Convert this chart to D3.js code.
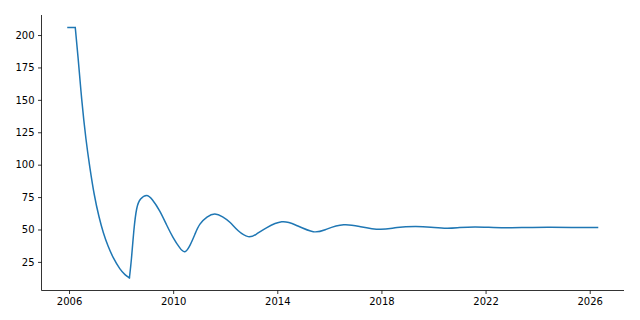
<!DOCTYPE html>
<html>
<head>
<meta charset="utf-8">
<script src="https://cdn.jsdelivr.net/npm/d3@7"></script>
<style>
  html, body { margin: 0; padding: 0; background: #fff; }
  #chart { width: 640px; height: 320px; }
  text { font-family: "DejaVu Sans", sans-serif; }
</style>
</head>
<body>
<div id="chart"></div>
<script>
// decimal years / values
const years = [
  2005.96, 2006.24, 2006.35, 2006.49, 2006.65, 2006.8, 2006.97, 2007.15, 2007.32, 2007.5,
  2007.7, 2007.95, 2008.15, 2008.32, 2008.4, 2008.49, 2008.6, 2008.75, 2008.98, 2009.2,
  2009.48, 2009.75, 2010.0, 2010.25, 2010.45, 2010.65, 2010.85, 2011.03, 2011.3, 2011.6,
  2011.9, 2012.19, 2012.5, 2012.88, 2013.2, 2013.6, 2014.17, 2014.7, 2015.38, 2015.9,
  2016.55, 2017.2, 2017.95, 2018.6, 2019.3, 2019.9, 2020.5, 2021.0, 2021.6, 2022.3,
  2023.0, 2023.8, 2024.5, 2025.3, 2026.3
];
const values = [
  205.8, 205.8, 182, 150, 120, 98, 77, 60, 47.5, 37.2,
  28.3, 19.8, 15.2, 12.6, 28, 49, 66, 73.5, 76.3, 73,
  64.4, 53.5, 43.8, 36, 32.9, 38, 47, 54.1, 59.5, 61.9,
  59.8, 55.4, 49, 44.5, 46.5, 51.5, 55.9, 53.5, 48.3, 50.3,
  53.6, 52.2, 50.2, 51.5, 52.3, 51.8, 51, 51.5, 52, 51.6,
  51.4, 51.6, 51.7, 51.5, 51.5
];
// indices where the curve has a sharp corner
const breaks = [1, 13];

const xTicks = [2006, 2010, 2014, 2018, 2022, 2026];
const yTicks = [25, 50, 75, 100, 125, 150, 175, 200];

function renderChart(containerId) {
  const width = 640, height = 320;
  const svg = d3.select(`#${containerId}`).append("svg")
    .attr("width", width)
    .attr("height", height);

  const data = years.map((t, i) => ({ t, v: values[i] }));

  // matplotlib-like 5% margins
  const tMin = d3.min(years), tMax = d3.max(years);
  const vMin = d3.min(values), vMax = d3.max(values);
  const tPad = (tMax - tMin) * 0.05, vPad = (vMax - vMin) * 0.05;

  const x = d3.scaleLinear().domain([tMin - tPad, tMax + tPad]).range([41.5, 624]);
  const y = d3.scaleLinear().domain([vMin - vPad, vMax + vPad]).range([290.5, 15]);

  // split into smooth pieces so the corners stay sharp
  const cuts = [0, ...breaks, data.length - 1];
  const pieces = [];
  for (let i = 0; i < cuts.length - 1; i++) {
    pieces.push(data.slice(cuts[i], cuts[i + 1] + 1));
  }
  const line = d3.line()
    .x(d => x(d.t))
    .y(d => y(d.v))
    .curve(d3.curveNatural);

  svg.append("path")
    .attr("d", pieces.map(p => line(p)).join(""))
    .attr("fill", "none")
    .attr("stroke", "#1f77b4")
    .attr("stroke-width", 1.5)
    .attr("stroke-linejoin", "round")
    .attr("stroke-linecap", "square");

  const xAxis = svg.append("g")
    .attr("transform", `translate(0,${290.5})`)
    .call(d3.axisBottom(x).tickValues(xTicks).tickFormat(d3.format("d")).tickSize(3.5).tickPadding(3.5));
  const yAxis = svg.append("g")
    .attr("transform", `translate(${41.5},0)`)
    .call(d3.axisLeft(y).tickValues(yTicks).tickFormat(d3.format("d")).tickSize(3.5).tickPadding(3.5));

  [xAxis, yAxis].forEach(ax => {
    ax.select(".domain").attr("stroke", "#000").attr("stroke-width", 0.8);
    ax.selectAll(".tick line").attr("stroke", "#000").attr("stroke-width", 0.8);
    ax.selectAll(".tick text")
      .attr("fill", "#000")
      .style("font-size", "10px")
      .style("font-family", "'DejaVu Sans', sans-serif");
  });
  // no end caps on the spines
  xAxis.select(".domain").attr("d", `M41.5,0H624`);
  yAxis.select(".domain").attr("d", `M0,290.5V15`);
}

document.addEventListener("DOMContentLoaded", () => renderChart("chart"));
</script>
</body>
</html>
